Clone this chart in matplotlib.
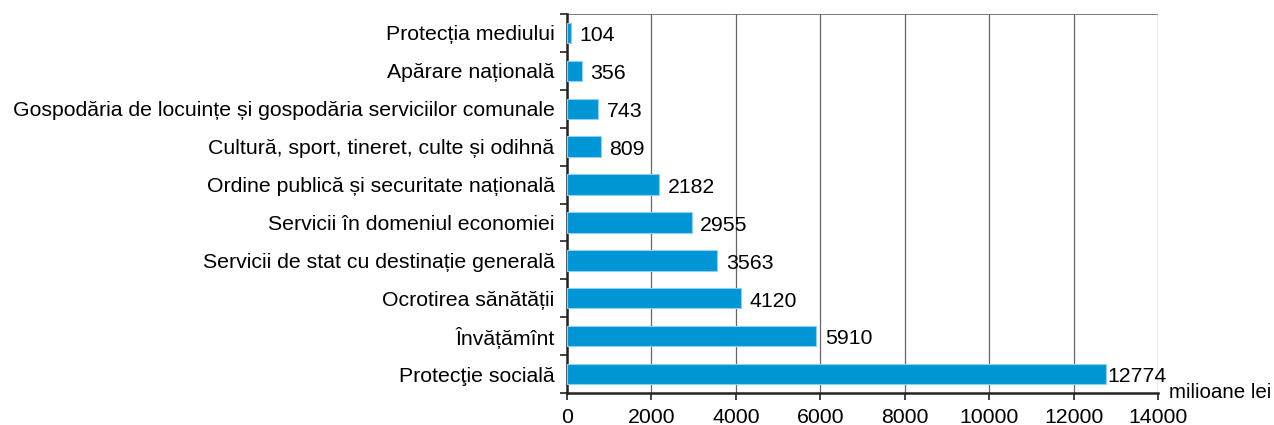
import matplotlib
matplotlib.use("Agg")
import matplotlib.pyplot as plt
from matplotlib.ticker import FixedLocator

plt.rcParams['font.family'] = ['Liberation Sans', 'DejaVu Sans']

categories = [
    "Protecţie socială",
    "Învățămînt",
    "Ocrotirea sănătății",
    "Servicii de stat cu destinație generală",
    "Servicii în domeniul economiei",
    "Ordine publică și securitate națională",
    "Cultură, sport, tineret, culte și odihnă",
    "Gospodăria de locuințe și gospodăria serviciilor comunale",
    "Apărare națională",
    "Protecția mediului",
]
values = [12774, 5910, 4120, 3563, 2955, 2182, 809, 743, 356, 104]
xticks = [0, 2000, 4000, 6000, 8000, 10000, 12000, 14000]
unit_label = "milioane lei"

FS = 15.3

fig = plt.figure(figsize=(12.74, 4.25), dpi=100)
ax = fig.add_axes([567/1274, 1-393/425, (1158-567)/1274, (393-14)/425])

n = len(categories)
pos = list(range(n))
ax.barh(pos, values, height=0.54, color='#0096d6', edgecolor='#8fd0ee', linewidth=0.8, zorder=3)

ax.set_xlim(0, 14000)
ax.set_ylim(-0.5, n - 0.5)
ax.xaxis.set_major_locator(FixedLocator(xticks))
ax.set_xticklabels([str(t) for t in xticks], fontsize=FS)
ax.set_yticks(pos)
ax.set_yticklabels(categories, fontsize=FS)
ax.tick_params(axis='y', length=0, pad=9)
ax.set_yticks([i - 0.5 for i in range(n + 1)], minor=True)
ax.tick_params(axis='y', which='minor', length=5, width=1.2, direction='out', color='#222222')
ax.tick_params(axis='x', length=5, width=1.2, direction='out', color='#222222', pad=6)

ax.grid(axis='x', color='#666666', linewidth=0.9, zorder=0)
for s in ['top', 'right']:
    ax.spines[s].set_visible(False)
ax.spines['left'].set_linewidth(1.8)
ax.spines['bottom'].set_linewidth(1.8)
ax.spines['left'].set_color('#222222')
ax.spines['bottom'].set_color('#222222')
ax.axhline(n - 0.5, color='#666666', linewidth=1.2, zorder=1)

for i, v in enumerate(values):
    off = 1 if v > 10000 else 6
    ax.annotate(str(v), (v, i), xytext=(off, -2), textcoords='offset points',
                va='center', ha='left', fontsize=FS, zorder=4)

ax.annotate(unit_label, (1, 0), xycoords='axes fraction', xytext=(8, 0),
            textcoords='offset points', ha='left', va='center', fontsize=FS - 0.5)

fig.savefig("out.png", dpi=100)
